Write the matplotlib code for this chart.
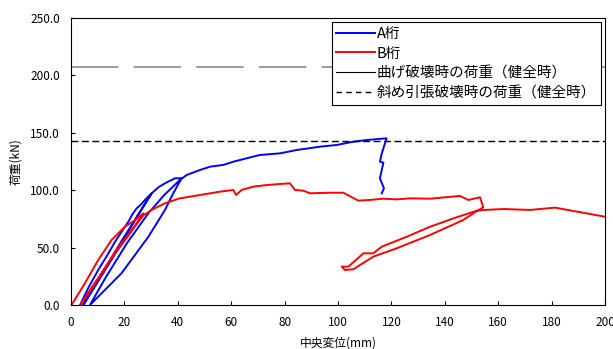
#!/usr/bin/env python3
import matplotlib
matplotlib.use("Agg")
import matplotlib.pyplot as plt

# A桁 (blue): two unload/reload cycles, then to failure
a_x = [3.4, 6.5, 10.2, 13.5, 16.5, 19.0, 21.5, 23.0, 24.6, 26.0, 27.7, 30.2,
       25.0, 18.0, 10.0, 4.6,
       11.0, 19.0, 25.0, 30.2,
       33.0, 36.0, 39.0, 41.4,
       38.0, 35.2, 29.0, 18.9, 7.1,
       13.0, 21.0, 29.0, 35.0, 40.8,
       43.3, 48.3, 52.1, 57.0, 60.8, 65.8, 70.8, 78.3, 84.5, 93.3, 99.5,
       105.7, 110.7, 118.2,
       116.4, 115.7, 117.0, 115.7, 117.2, 116.4]
a_y = [0.0, 15.0, 30.5, 43.0, 55.1, 64.0, 72.6, 79.0, 84.2, 87.0, 91.5, 97.3,
       78.0, 50.0, 20.0, 0.0,
       25.0, 56.0, 78.0, 97.3,
       103.0, 107.0, 110.4, 110.4,
       96.0, 82.8, 59.5, 27.6, 0.0,
       24.0, 54.0, 80.0, 96.0, 108.9,
       113.2, 117.6, 120.5, 122.0, 124.8, 127.8, 130.7, 132.1, 135.0, 137.9, 139.4,
       142.2, 143.7, 145.2,
       132.1, 124.8, 124.0, 110.4, 101.6, 97.3]

# B桁 (red)
b_x = [0.2, 5.2, 10.2, 15.2, 20.2, 24.0, 27.1,
       22.0, 15.0, 8.0, 3.5,
       10.0, 17.0, 23.0, 27.1,
       30.2, 35.2, 40.8, 48.3, 55.8, 60.8, 61.8, 63.9, 68.3, 73.3, 78.3,
       82.0, 83.9, 87.0, 89.5, 97.0, 102.0, 107.6, 112.0, 117.0, 122.0,
       127.0, 134.5, 145.7, 148.8, 153.2, 154.4,
       150.7, 146.9, 134.5, 122.0, 113.2, 105.7, 102.6, 101.4,
       103.9, 109.5, 113.2, 116.4, 125.8, 134.5, 144.4, 152.0, 155.0,
       162.0, 171.9, 181.3, 200.0]
b_y = [0.0, 18.9, 39.2, 56.6, 68.2, 74.0, 79.9,
       62.0, 40.0, 16.0, 0.0,
       22.0, 48.0, 66.0, 78.0,
       82.8, 88.6, 92.9, 95.8, 98.7, 100.2, 95.8, 100.2, 103.1, 104.5, 105.4,
       106.0, 100.2, 99.6, 97.3, 97.8, 97.8, 90.9, 91.5, 92.6, 92.0,
       92.9, 92.6, 95.0, 91.5, 93.8, 85.1,
       79.9, 74.0, 61.0, 49.4, 42.1, 31.1, 30.5, 33.4,
       33.4, 45.0, 45.0, 50.8, 59.5, 68.2, 76.4, 82.1, 82.8,
       83.6, 82.8, 84.8, 76.9]

bend_load = 207.0
shear_load = 143.0

plt.rcParams['font.family'] = ['Noto Sans CJK JP', 'DejaVu Sans']

fig = plt.figure(figsize=(6.13, 3.49), dpi=100)
ax = fig.add_axes([71 / 613, 44 / 349, 534 / 613, 287 / 349])

ax.plot(a_x, a_y, color='#0000ff', lw=1.4, label='A桁')
ax.plot(b_x, b_y, color='#ff0000', lw=1.4, label='B桁')
ax.axhline(bend_load, color='#808080', lw=1.1, dashes=(31, 10), label='曲げ破壊時の荷重（健全時）')
ax.axhline(shear_load, color='black', lw=1.0, dashes=(5, 2.5), label='斜め引張破壊時の荷重（健全時）')

ax.set_xlim(0, 200)
ax.set_ylim(0, 250)
ax.set_xticks(range(0, 201, 20))
ax.set_yticks(range(0, 251, 50))
ax.set_yticklabels(['%.1f' % v for v in range(0, 251, 50)])
ax.tick_params(direction='in', labelsize=8.5, length=3, pad=8)
ax.set_xlabel('中央変位(mm)', fontsize=8.5, labelpad=5)
ax.set_ylabel('荷重(kN)', fontsize=8.5, labelpad=6)

leg_handles, leg_labels = ax.get_legend_handles_labels()
leg = ax.legend(leg_handles, leg_labels, loc='upper right', fontsize=10.5,
                fancybox=False, edgecolor='black', framealpha=1,
                borderpad=0.3, labelspacing=0.4, handlelength=2.7,
                handletextpad=0.1, borderaxespad=0.3)
leg.get_frame().set_linewidth(0.8)
# legend shows the bending line as a thin solid line
leg.get_lines()[2].set_linestyle('-')
leg.get_lines()[2].set_color('black')
leg.get_lines()[2].set_linewidth(0.8)
leg.get_lines()[3].set_dashes((4, 3))

fig.savefig('out.png', dpi=100)
